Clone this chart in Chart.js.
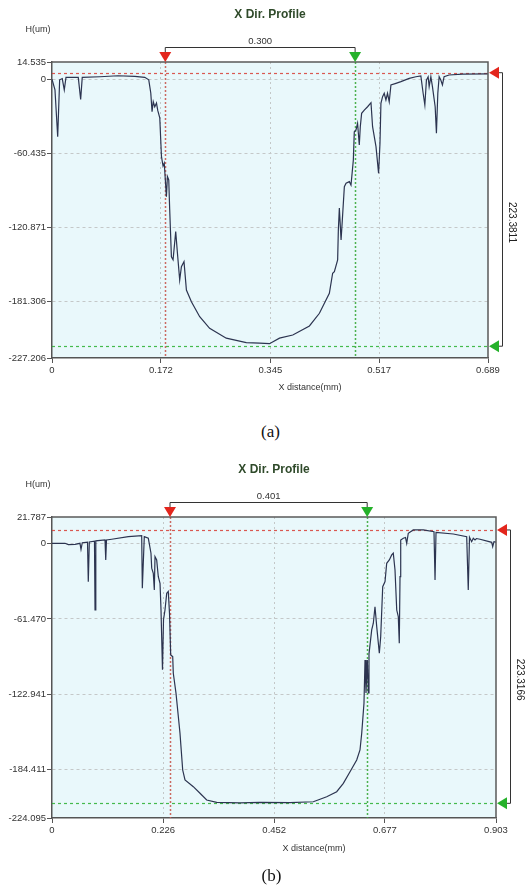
<!DOCTYPE html>
<html>
<head>
<meta charset="utf-8">
<script src="https://cdn.jsdelivr.net/npm/chart.js@4.4.0/dist/chart.umd.min.js"></script>
<style>
  body { margin: 0; width: 525px; height: 888px; background: #fff; position: relative; overflow: hidden; }
  canvas { position: absolute; left: 0; }
  .caption { position: absolute; width: 525px; text-align: center; font-family: 'Liberation Serif', 'Times New Roman', serif; font-size: 17px; line-height: 20px; color: #111; }
</style>
</head>
<body>
<canvas id="chartA" width="525" height="400" style="top:0"></canvas>
<div class="caption" style="top:422px; left:8px">(a)</div>
<canvas id="chartB" width="525" height="425" style="top:445px"></canvas>
<div class="caption" style="top:866px; left:9px">(b)</div>

<script>
// ---- panel (a) profile ----
const xA = [0, 0.0047, 0.0090, 0.0121, 0.0162, 0.0194, 0.0221, 0.0415, 0.0453, 0.0478, 0.0757, 0.1041, 0.1309, 0.1466, 0.1529, 0.1561, 0.1581, 0.1600, 0.1624, 0.1651, 0.1671, 0.1703, 0.1730, 0.1755, 0.1774, 0.1808, 0.1824, 0.1845, 0.1860, 0.1887, 0.1913, 0.1955, 0.1982, 0.2018, 0.2045, 0.2086, 0.2124, 0.2203, 0.2334, 0.2491, 0.2754, 0.3070, 0.3280, 0.3437, 0.3595, 0.3805, 0.4068, 0.4226, 0.4383, 0.4435, 0.4462, 0.4514, 0.4525, 0.4541, 0.4568, 0.4588, 0.4620, 0.4647, 0.4699, 0.4725, 0.4762, 0.4777, 0.4804, 0.4829, 0.4856, 0.4872, 0.4893, 0.4935, 0.4987, 0.5041, 0.5066, 0.5120, 0.5161, 0.5183, 0.5198, 0.5224, 0.5250, 0.5277, 0.5302, 0.5329, 0.5356, 0.5435, 0.5514, 0.5645, 0.5750, 0.5829, 0.5865, 0.5892, 0.5917, 0.5944, 0.5960, 0.5987, 0.6012, 0.6055, 0.6075, 0.6097, 0.6118, 0.6144, 0.6170, 0.6196, 0.6275, 0.6485, 0.6890];
const yA = [0.5, -8.3, -46.5, 0, 1, -8.3, 2, 2, -16, 2, 2.5, 3.3, 2.8, 2, 0, -10.8, -26, -17.9, -22, -19, -25, -31, -62.8, -70.4, -68, -95.5, -79, -81.8, -106, -144.5, -147, -124, -141.5, -163.5, -152.6, -148.5, -171.7, -181.2, -193.5, -203, -211, -214.7, -215, -215.5, -211, -208.4, -201, -190.7, -174.4, -158, -156.7, -147, -122.7, -104.7, -130.8, -114.5, -87.3, -84.5, -83.2, -86, -65.5, -42.4, -41, -35.5, -53.2, -38.3, -27.4, -24.7, -22, -18.7, -38.3, -54.6, -76.4, -51.9, -19.2, -13.8, -11, -16.5, -11, -17.9, -4.2, -2.9, -1.5, 1.2, 2.5, 3.1, -11, -20.6, -0.2, 2.5, -5.6, 2.5, -5.6, -22, -43.7, -11, 2.5, -0.2, -4.2, 2.5, 3.9, 4.7, 4.8];
const xTicksA = [0, 0.172, 0.345, 0.517, 0.689];
const xLabelsA = ['0', '0.172', '0.345', '0.517', '0.689'];
const yTicksA = [14.535, 0, -60.435, -120.871, -181.306, -227.206];
const yLabelsA = ['14.535', '0', '-60.435', '-120.871', '-181.306', '-227.206'];
const cursorXA = [0.179, 0.479];      // red, green cursors (mm)
const cursorYA = [5.8, -217.58];      // red, green levels (um)
const widthTextA = '0.300';
const depthTextA = '223.3811';

// ---- panel (b) profile ----
const xB = [0, 0.0264, 0.0332, 0.0468, 0.0569, 0.0590, 0.0616, 0.0722, 0.0738, 0.0759, 0.0864, 0.0875, 0.0891, 0.1078, 0.1093, 0.1108, 0.1214, 0.1552, 0.1824, 0.1837, 0.1877, 0.1959, 0.2013, 0.2028, 0.2060, 0.2081, 0.2095, 0.2129, 0.2162, 0.2197, 0.2217, 0.2247, 0.2268, 0.2298, 0.2333, 0.2365, 0.2390, 0.2414, 0.2455, 0.2467, 0.2522, 0.2603, 0.2658, 0.2705, 0.2874, 0.3010, 0.3146, 0.3350, 0.3824, 0.4230, 0.4840, 0.5314, 0.5451, 0.5587, 0.5790, 0.5925, 0.6061, 0.6197, 0.6264, 0.6299, 0.6345, 0.6366, 0.6386, 0.6413, 0.6433, 0.6447, 0.6502, 0.6535, 0.6569, 0.6604, 0.6657, 0.6685, 0.6726, 0.6773, 0.6807, 0.6860, 0.6909, 0.6941, 0.6976, 0.7011, 0.7043, 0.7063, 0.7078, 0.7092, 0.7145, 0.7190, 0.7214, 0.7246, 0.7348, 0.7551, 0.7769, 0.7790, 0.7810, 0.8162, 0.8434, 0.8466, 0.8491, 0.8535, 0.8568, 0.8603, 0.8633, 0.8705, 0.8943, 0.8963, 0.8989, 0.903];
const yB = [0.3, 0.3, -0.8, -0.5, 0.3, -4.6, 0.8, 1.2, -31, 1.4, 2, -54.2, 2.3, 3, -13.3, 3, 3.6, 5.7, 6.5, -36.4, 5.7, 4.4, -7.8, -20, -24.2, -37.8, -10.6, -13.3, -27, -32.4, -54.2, -103, -62, -54.2, -40.5, -39, -57, -91, -92.3, -105.9, -122.2, -154.9, -184.9, -193, -198.5, -203.9, -209.4, -211.3, -211.8, -211.3, -211.6, -210.8, -208.8, -206.7, -202.6, -195.8, -186.3, -176.7, -168.5, -154.9, -130.4, -95, -122, -95, -122, -90, -70.5, -65, -51.5, -67.8, -89.5, -76, -35.1, -31, -16, -13.3, -9.2, -7.8, -21.5, -54.2, -59.6, -81.4, -27, 3, 4.4, 5, 0.3, 8.5, 11.2, 11.2, 9.8, -29.7, 9.2, 7.9, 5.7, -37.8, 5.3, 1.6, 4.4, 3, 4.2, 3.6, 1.1, -2.5, 1.6, 1.2];
const xTicksB = [0, 0.226, 0.452, 0.677, 0.903];
const xLabelsB = ['0', '0.226', '0.452', '0.677', '0.903'];
const yTicksB = [21.787, 0, -61.470, -122.941, -184.411, -224.095];
const yLabelsB = ['21.787', '0', '-61.470', '-122.941', '-184.411', '-224.095'];
const cursorXB = [0.240, 0.641];
const cursorYB = [11.2, -212.1166];
const widthTextB = '0.401';
const depthTextB = '223.3166';

const FONT = "'Liberation Sans', Arial, sans-serif";
const RED = '#e3261d';
const GREEN = '#25b12a';

function buildProfile(id, d) {
    const ctx = document.getElementById(id).getContext('2d');
    const points = d.xs.map((x, i) => ({ x: x, y: d.ys[i] }));

    const decor = {
        id: 'decor_' + id,
        beforeDraw(chart) {
            const a = chart.chartArea, c = chart.ctx;
            c.save();
            c.fillStyle = '#e9f8fb';
            c.fillRect(a.left, a.top, a.right - a.left, a.bottom - a.top);
            c.restore();
        },
        beforeDatasetsDraw(chart) {
            const a = chart.chartArea, c = chart.ctx;
            const xs = chart.scales.x, ys = chart.scales.y;
            const cols = [RED, GREEN];
            c.save();
            c.lineWidth = 1.2;
            c.setLineDash([3, 3]);
            for (let k = 0; k < 2; k++) {
                const py = Math.round(ys.getPixelForValue(d.cursorY[k])) + 0.5;
                c.strokeStyle = k === 0 ? 'rgba(215,60,50,0.85)' : 'rgba(40,175,45,0.85)';
                c.beginPath(); c.moveTo(a.left, py); c.lineTo(a.right, py); c.stroke();
            }
            c.setLineDash([2, 2]);
            c.lineWidth = 1.5;
            for (let k = 0; k < 2; k++) {
                const px = Math.round(xs.getPixelForValue(d.cursorX[k])) + 0.5;
                c.strokeStyle = k === 0 ? 'rgba(200,90,80,0.9)' : 'rgba(60,170,60,0.9)';
                c.beginPath(); c.moveTo(px, a.top); c.lineTo(px, a.bottom); c.stroke();
            }
            c.restore();
        },
        afterDraw(chart) {
            const a = chart.chartArea, c = chart.ctx;
            const xs = chart.scales.x, ys = chart.scales.y;
            c.save();
            // frame top + right
            c.strokeStyle = '#5a5a5a';
            c.lineWidth = 1.5;
            c.beginPath();
            c.moveTo(a.left, a.top); c.lineTo(a.right, a.top); c.lineTo(a.right, a.bottom);
            c.stroke();

            // title and axis texts
            c.fillStyle = '#2f4a2a';
            c.font = 'bold 12px ' + FONT;
            c.textAlign = 'center'; c.textBaseline = 'middle';
            const mid = (a.left + a.right) / 2;
            c.fillText('X Dir. Profile', mid, d.titleY);
            c.fillStyle = '#333';
            c.font = '9px ' + FONT;
            c.fillText('H(um)', a.left - 14, a.top - 32);
            c.fillText('X distance(mm)', mid + 40, a.bottom + d.xTitleGap);

            // top cursor bracket
            const xr = xs.getPixelForValue(d.cursorX[0]);
            const xg = xs.getPixelForValue(d.cursorX[1]);
            const bt = a.top - 14.5;
            c.strokeStyle = '#333'; c.lineWidth = 1;
            c.beginPath();
            c.moveTo(xr, a.top - 9); c.lineTo(xr, bt); c.lineTo(xg, bt); c.lineTo(xg, a.top - 9);
            c.stroke();
            c.font = '9.5px ' + FONT;
            c.fillText(d.widthText, (xr + xg) / 2, a.top - 21);
            [[xr, RED], [xg, GREEN]].forEach(([px, col]) => {
                c.fillStyle = col;
                c.beginPath();
                c.moveTo(px - 6, a.top - 10); c.lineTo(px + 6, a.top - 10); c.lineTo(px, a.top);
                c.closePath(); c.fill();
            });

            // right level bracket
            const yr = ys.getPixelForValue(d.cursorY[0]);
            const yg = ys.getPixelForValue(d.cursorY[1]);
            const bx = a.right + 14.5;
            c.strokeStyle = '#333';
            c.beginPath();
            c.moveTo(a.right + 9, yr); c.lineTo(bx, yr); c.lineTo(bx, yg); c.lineTo(a.right + 9, yg);
            c.stroke();
            [[yr, RED], [yg, GREEN]].forEach(([py, col]) => {
                c.fillStyle = col;
                c.beginPath();
                c.moveTo(a.right + 11, py - 6); c.lineTo(a.right + 11, py + 6); c.lineTo(a.right + 1, py);
                c.closePath(); c.fill();
            });
            c.translate(bx + 9, (yr + yg) / 2 + 13);
            c.rotate(Math.PI / 2);
            c.fillStyle = '#222';
            c.font = '10px ' + FONT;
            c.fillText(d.depthText, 0, 0);
            c.restore();
        }
    };

    const gridColor = n => (g => (g.index === 0 || g.index === n - 1) ? 'rgba(0,0,0,0)' : '#c4c8c8');

    return new Chart(ctx, {
        type: 'scatter',
        data: {
            datasets: [{
                data: points,
                showLine: true,
                borderColor: '#2c3450',
                borderWidth: 1.2,
                pointRadius: 0,
                tension: 0
            }]
        },
        options: {
            responsive: false,
            animation: false,
            events: [],
            layout: { padding: { left: 0, top: d.top, right: d.padRight, bottom: 0 } },
            plugins: { legend: { display: false }, tooltip: { enabled: false }, title: { display: false } },
            scales: {
                x: {
                    type: 'linear',
                    min: d.xTicks[0],
                    max: d.xTicks[d.xTicks.length - 1],
                    afterBuildTicks: s => { s.ticks = d.xTicks.map(v => ({ value: v })); },
                    afterFit: s => { s.height = d.xAxisHeight; },
                    ticks: {
                        callback: (v, i) => d.xLabels[i],
                        color: '#333', font: { family: FONT, size: 9.5 },
                        padding: 2, maxRotation: 0, autoSkip: false
                    },
                    grid: { color: gridColor(d.xTicks.length), tickColor: '#555', tickLength: 5, tickWidth: 1 },
                    border: { color: '#555', width: 1.5, dash: [2, 3] }
                },
                y: {
                    type: 'linear',
                    min: d.yTicks[d.yTicks.length - 1],
                    max: d.yTicks[0],
                    afterBuildTicks: s => { s.ticks = d.yTicks.slice().reverse().map(v => ({ value: v })); },
                    afterFit: s => { s.width = 52; },
                    ticks: {
                        callback: (v, i) => d.yLabels[d.yLabels.length - 1 - i],
                        color: '#333', font: { family: FONT, size: 9.5 },
                        padding: 1, autoSkip: false
                    },
                    grid: { color: gridColor(d.yTicks.length), tickColor: '#555', tickLength: 5, tickWidth: 1 },
                    border: { color: '#555', width: 1.5, dash: [3, 3] }
                }
            }
        },
        plugins: [decor]
    });
}

buildProfile('chartA', {
    xs: xA, ys: yA, xTicks: xTicksA, xLabels: xLabelsA, yTicks: yTicksA, yLabels: yLabelsA,
    cursorX: cursorXA, cursorY: cursorYA, widthText: widthTextA, depthText: depthTextA,
    top: 62, padRight: 37, xAxisHeight: 42, titleY: 15, xTitleGap: 30
});

buildProfile('chartB', {
    xs: xB, ys: yB, xTicks: xTicksB, xLabels: xLabelsB, yTicks: yTicksB, yLabels: yLabelsB,
    cursorX: cursorXB, cursorY: cursorYB, widthText: widthTextB, depthText: depthTextB,
    top: 72, padRight: 29, xAxisHeight: 52, titleY: 25, xTitleGap: 31
});
</script>
</body>
</html>
